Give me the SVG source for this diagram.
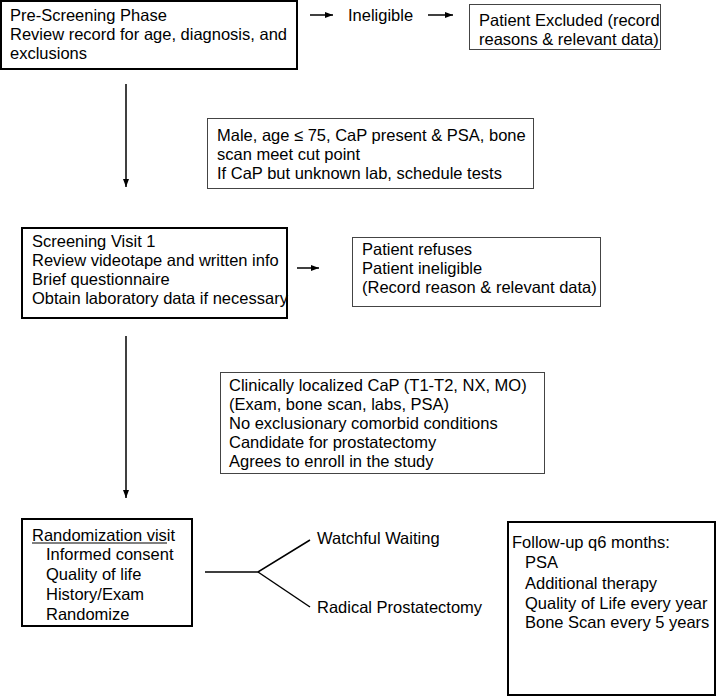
<svg xmlns="http://www.w3.org/2000/svg" width="716" height="697" viewBox="0 0 716 697">
<defs>
<marker id="ah" markerWidth="8" markerHeight="6" refX="8" refY="3" orient="auto" markerUnits="userSpaceOnUse">
<path d="M0,0 L8,3 L0,6 Z" fill="#000"/>
</marker>
<style>
text{font-family:"Liberation Sans",Arial,sans-serif;font-size:16.5px;fill:#000}
.thick{fill:#fff;stroke:#000;stroke-width:2}
.thin{fill:#fff;stroke:#444;stroke-width:1}
.conn{stroke:#000;stroke-width:1.5;fill:none}
</style>
</defs>
<rect width="716" height="697" fill="#fff"/>
<g id="prescreen">
<rect class="thick" x="1" y="1" width="296" height="68"/>
<text x="10" y="21">Pre-Screening Phase</text>
<text x="10" y="40">Review record for age, diagnosis, and</text>
<text x="10" y="59">exclusions</text>
</g>
<g id="ineligible">
<text x="348" y="21">Ineligible</text>
</g>
<g id="excluded">
<rect class="thin" x="469.5" y="4.5" width="191" height="45"/>
<text x="479" y="26">Patient Excluded (record</text>
<text x="479" y="45">reasons &amp; relevant data)</text>
</g>
<g id="criteria1">
<rect class="thin" x="207.5" y="118.5" width="326" height="70"/>
<text x="217" y="141">Male, age ≤ 75, CaP present &amp; PSA, bone</text>
<text x="217" y="160">scan meet cut point</text>
<text x="217" y="179">If CaP but unknown lab, schedule tests</text>
</g>
<g id="screening">
<rect class="thick" x="22" y="228" width="265" height="90"/>
<text x="32" y="247">Screening Visit 1</text>
<text x="32" y="266">Review videotape and written info</text>
<text x="32" y="285">Brief questionnaire</text>
<text x="32" y="304">Obtain laboratory data if necessary</text>
</g>
<g id="refuses">
<rect class="thin" x="352.5" y="237.5" width="248" height="69"/>
<text x="362" y="255">Patient refuses</text>
<text x="362" y="274">Patient ineligible</text>
<text x="362" y="293">(Record reason &amp; relevant data)</text>
</g>
<g id="criteria2">
<rect class="thin" x="220.5" y="372.5" width="324" height="101"/>
<text x="229" y="391">Clinically localized CaP (T1-T2, NX, MO)</text>
<text x="229" y="410">(Exam, bone scan, labs, PSA)</text>
<text x="229" y="429">No exclusionary comorbid conditions</text>
<text x="229" y="448">Candidate for prostatectomy</text>
<text x="229" y="467">Agrees to enroll in the study</text>
</g>
<g id="randomization">
<rect class="thick" x="22" y="519" width="170" height="107"/>
<text x="32" y="541">Randomization vis<tspan>it</tspan></text>
<line x1="32" y1="543" x2="167" y2="543" stroke="#000" stroke-width="1"/>
<text x="46" y="560">Informed consent</text>
<text x="46" y="580">Quality of life</text>
<text x="46" y="600">History/Exam</text>
<text x="46" y="620">Randomize</text>
</g>
<g id="watchful">
<text x="317" y="544">Watchful Waiting</text>
</g>
<g id="radical">
<text x="317" y="613">Radical Prostatectomy</text>
</g>
<g id="followup">
<rect class="thick" x="508" y="522" width="207" height="173"/>
<text x="512" y="548">Follow-up q6 months:</text>
<text x="525" y="568">PSA</text>
<text x="525" y="589">Additional therapy</text>
<text x="525" y="609">Quality of Life every year</text>
<text x="525" y="628">Bone Scan every 5 years</text>
</g>
<g id="connectors">
<line class="conn" x1="310" y1="15" x2="333" y2="15" marker-end="url(#ah)"/>
<line class="conn" x1="428" y1="15" x2="453" y2="15" marker-end="url(#ah)"/>
<line class="conn" x1="126" y1="84" x2="126" y2="187" marker-end="url(#ah)"/>
<line class="conn" x1="297" y1="268" x2="319" y2="268" marker-end="url(#ah)"/>
<line class="conn" x1="126" y1="336" x2="126" y2="498" marker-end="url(#ah)"/>
<polyline class="conn" points="205,572 258,572 310,540"/>
<line class="conn" x1="258" y1="572" x2="310" y2="607"/>
</g>
</svg>
